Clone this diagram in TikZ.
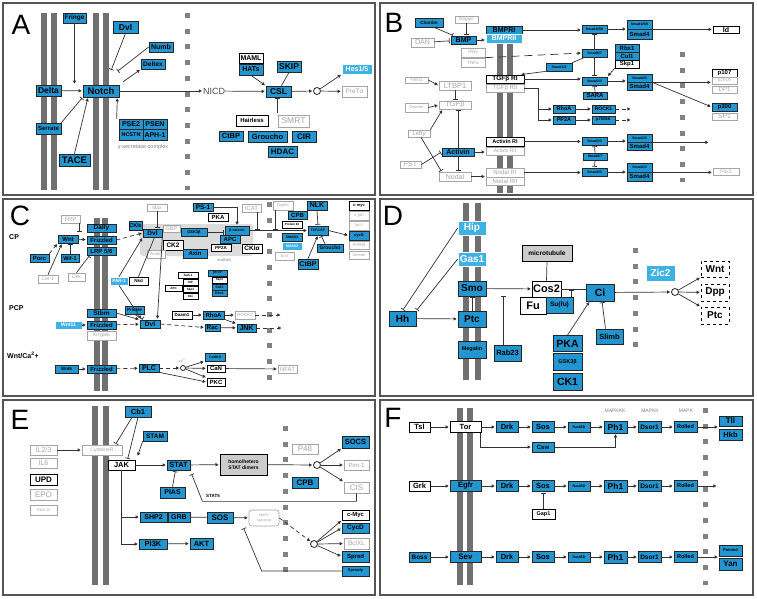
\documentclass[tikz,border=0pt]{standalone}
\usepackage{fontspec}
\setmainfont{Liberation Sans}
\setsansfont{Liberation Sans}
\usepackage{tikz}
\usetikzlibrary{arrows.meta,calc}
\definecolor{kblue}{RGB}{35,150,210}
\definecolor{lblue}{RGB}{62,178,228}
\definecolor{ltext}{RGB}{165,165,165}
\definecolor{membgray}{RGB}{112,112,112}
\definecolor{nucgray}{RGB}{130,130,130}
\definecolor{framegray}{RGB}{85,85,85}

\begin{document}
\begin{tikzpicture}[
    x=1pt, y=-1pt,
    % --- node styles ---
    box/.style={rectangle, inner sep=0pt, align=center, line width=0.7pt},
    bb/.style={box, fill=kblue, draw=black!85, text=black},
    lb/.style={box, fill=lblue, draw=white, text=white},
    wb/.style={box, fill=white, draw=black, text=black},
    gb/.style={box, fill=white, draw=ltext, text=ltext, execute at begin node=\mdseries},
    db/.style={box, fill=white, draw=black, dashed, text=black},
    sz/.style 2 args={minimum width=#1pt, minimum height=#2pt},
    fs/.style={font=\fontsize{#1}{#1}\selectfont\bfseries},
    hub/.style={circle, draw=black!85, line width=0.8pt, fill=white,
      inner sep=0pt, minimum size=7pt},
    lbl/.style={inner sep=0pt, text=black!70, execute at begin node=\mdseries},
    letter/.style={inner sep=0pt, font=\fontsize{28}{28}\selectfont},
    % --- edge styles ---
    arr/.style={-{Triangle[length=3pt,width=3.2pt]}, line width=0.7pt,
      draw=black!80, shorten >=1pt},
    inh/.style={-{Bar[width=5pt]}, line width=0.7pt, draw=black!80, shorten >=1pt},
    ln/.style={line width=0.7pt, draw=black!80},
    darr/.style={arr, dash pattern=on 4pt off 3pt},
    memb/.style={line width=6pt, draw=membgray},
    nuc/.style={line width=5pt, draw=nucgray, dash pattern=on 5pt off 10.7pt},
    frame/.style={draw=framegray, line width=1.2pt},
  ]

  \fill[white] (0,0) rectangle (757,598);
  \useasboundingbox (0,0) rectangle (757,598);

  % ============== PANEL FRAMES ==============
  \draw[frame] (3,3) rectangle (375,195);
  \draw[frame] (380,3) rectangle (753,195);
  \draw[frame] (3,199) rectangle (375,396);
  \draw[frame] (380,199) rectangle (753,396);
  \draw[frame] (3,400) rectangle (375,595);
  \draw[frame] (380,400) rectangle (753,595);

  % ============== A: NOTCH ==============
  \node[letter] (labA) at (21,25) {A};
  \draw[memb] (44,13) -- (44,190);
  \draw[memb] (54,13) -- (54,190);
  \draw[memb] (96,13) -- (96,190);
  \draw[memb] (106,13) -- (106,190);
  \draw[nuc] (187.5,13) -- (187.5,190);

  \node[bb, sz={23}{10}, fs=6.5] (fringe) at (74.5,18) {Fringe};
  \node[bb, sz={25}{12}, fs=8.5] (dvlA) at (125.5,27) {Dvl};
  \node[bb, sz={24}{10}, fs=7] (numb) at (161,47) {Numb};
  \node[bb, sz={24}{10}, fs=6.5] (deltex) at (153,64) {Deltex};
  \node[bb, sz={25}{11}, fs=8.5] (delta) at (48.5,90.5) {Delta};
  \node[bb, sz={36}{12}, fs=9.5] (notch) at (101,91) {Notch};
  \node[bb, sz={25}{11}, fs=6] (serrate) at (48.5,128.5) {Serrate};
  \node[bb, sz={24}{10.5}, fs=7] (pse2) at (131,124.25) {PSE2};
  \node[bb, sz={24}{10.5}, fs=7] (psen) at (155,124.25) {PSEN};
  \node[bb, sz={24}{10.5}, fs=5.5] (ncstn) at (131,134.75) {NCSTN};
  \node[bb, sz={24}{10.5}, fs=7] (aph) at (155,134.75) {APH-1};
  \node[lbl, fs=5.5, text=gray] (gsec) at (143,147) {γ-secretase complex};
  \node[bb, sz={31}{12}, fs=9.5] (tace) at (74.5,160) {TACE};
  \node[lbl, fs=9] (nicd) at (214,91) {NICD};
  \node[bb, sz={25}{11}, fs=8.5] (csl) at (278.5,91.5) {CSL};
  \node[wb, sz={24}{10}, fs=7] (maml) at (251,58) {MAML};
  \node[bb, sz={24}{11}, fs=7] (hats) at (251,69.5) {HATs};
  \node[bb, sz={24}{11}, fs=8.5] (skip) at (289,66.5) {SKIP};
  \node[hub] (hubA) at (317,91) {};
  \node[lb, sz={30}{10}, fs=7] (hes) at (357,69) {Hes1/5};
  \node[gb, sz={25}{11}, fs=6.5] (pret) at (354.5,91.5) {PreTα};
  \node[wb, sz={32}{11}, fs=6] (hairless) at (252,120.5) {Hairless};
  \node[gb, sz={31}{12}, fs=8.5] (smrt) at (293.5,121) {SMRT};
  \node[bb, sz={24}{10}, fs=7.5] (ctbpA) at (231,136) {CtBP};
  \node[bb, sz={39}{11}, fs=7.5] (groucho) at (267.5,136.5) {Groucho};
  \node[bb, sz={24}{11}, fs=8] (cir) at (304,136.5) {CIR};
  \node[bb, sz={29}{11}, fs=8] (hdac) at (282.5,151.5) {HDAC};

  \draw[arr] (fringe.south) -- (fringe.south |- notch.north);
  \draw[arr] (delta) -- (notch);
  \draw[inh] (serrate.north east) -- (notch.south west);
  \draw[arr] (tace.north) -- ($(notch.south)+(-13,0)$);
  \draw[inh] (dvlA.south) -- ($(notch.north)+(10,-14)$);
  \draw[inh] (numb.west) -- ($(notch.north)+(16,-13)$);
  \draw[arr] ($(notch.north east)+(4,-3)$) -- (deltex.south west);
  \draw[arr] ($(pse2.north west)+(-2,0)$) -- ($(notch.south east)+(-2,0)$);
  \draw[arr] (notch) -- (nicd);
  \draw[arr] (nicd) -- (csl);
  \draw[arr] (hats.south) -- (csl.north west);
  \draw[ln] (skip.south) -- ($(csl.north)+(3,0)$);
  \draw[arr] (csl) -- (hubA);
  \draw[arr] (hubA) -- (hes.south west);
  \draw[arr] (hubA) -- (pret);
  \draw[inh] ($(csl.south)+(-1.5,16)$) -- ($(csl.south)+(-1.5,0)$);

  % ============== B: TGF-BETA ==============
  \node[letter] (labB) at (394,23) {B};
  \draw[memb] (500,28) -- (500,193);
  \draw[memb] (510,28) -- (510,193);
  \draw[nuc] (682.5,52) -- (682.5,182);

  \node[bb, sz={28}{9}, fs=4.5] (chordin) at (429,22.5) {Chordin};
  \node[gb, sz={23}{7}, fs=4.5] (noggin) at (466.5,19.5) {Noggin};
  \node[gb, sz={23}{9}, fs=7] (dan) at (422.5,42.5) {DAN};
  \node[bb, sz={25}{8}, fs=7] (bmp) at (463.5,40) {BMP};
  \node[bb, sz={36}{8}, fs=7] (bmpri) at (504,30) {BMPRI};
  \node[lb, sz={36}{9}, fs=7] (bmprii) at (504,38.5) {BMPRII};
  \node[bb, sz={25}{8}, fs=3.5] (smad158) at (594.5,29) {Smad1/5/8};
  \node[bb, sz={25}{9}, fs=3.5] (s158) at (639.5,24.5) {Smad1/5/8};
  \node[bb, sz={25}{10}, fs=6] (smad4a) at (639.5,34) {Smad4};
  \node[wb, sz={26}{7}, fs=7] (id) at (726,29.5) {Id};
  \node[gb, sz={24}{9}, fs=4.5] (ifn) at (473,52.5) {IFNγ};
  \node[gb, sz={24}{9}, fs=4.5] (tnf) at (473,62.5) {TNFα};
  \node[bb, sz={25}{8}, fs=3.5] (smad67a) at (594.5,53) {Smad6/7};
  \node[bb, sz={26}{8}, fs=3.5] (smurf) at (559,67) {Smurf1/2};
  \node[wb, sz={38}{8}, fs=6.5] (tgfri) at (505,79) {TGFβ RI};
  \node[gb, sz={38}{8}, fs=6] (tgfrii) at (505,88) {TGFβ RII};
  \node[bb, sz={24}{8}, fs=6] (rbx) at (627,48) {Rbx1};
  \node[bb, sz={24}{8}, fs=6] (cul) at (627,56) {Cul1};
  \node[wb, sz={24}{8}, fs=6] (skp) at (627,64) {Skp1};
  \node[bb, sz={25}{8}, fs=3.5] (smad23a) at (594.5,81) {Smad2/3};
  \node[bb, sz={24}{7}, fs=6] (sara) at (595,95.5) {SARA};
  \node[bb, sz={25}{8}, fs=3.5] (s23a) at (639.5,78) {Smad2/3};
  \node[bb, sz={25}{8}, fs=6] (smad4b) at (639.5,86) {Smad4};
  \node[wb, sz={25}{8}, fs=6] (p107) at (724.5,73) {p107};
  \node[gb, sz={25}{7}, fs=4] (e2f) at (724.5,80.5) {E2F4/5};
  \node[gb, sz={25}{7}, fs=6] (dp1) at (724.5,89.5) {DP1};
  \node[bb, sz={25}{8}, fs=6] (p300) at (724.5,107) {p300};
  \node[gb, sz={25}{7}, fs=7] (sp1) at (724.5,116.5) {SP1};
  \node[bb, sz={22}{8}, fs=5.5] (rhoaB) at (564,109) {RhoA};
  \node[bb, sz={22}{8}, fs=5.5] (pp2aB) at (564,120) {PP2A};
  \node[bb, sz={23}{8}, fs=5] (rock1) at (603.5,109) {ROCK1};
  \node[bb, sz={23}{8}, fs=4] (p70) at (603.5,120) {p70S6K};
  \node[wb, sz={38}{9}, fs=5.5] (actri) at (505,141.5) {Activin RI};
  \node[gb, sz={38}{8}, fs=5] (actrii) at (505,151) {Activin RII};
  \node[bb, sz={25}{8}, fs=3.5] (smad23b) at (594.5,141) {Smad2/3};
  \node[bb, sz={24}{7}, fs=3.5] (smad67b) at (595,156.5) {Smad6/7};
  \node[bb, sz={25}{8}, fs=3.5] (s23b) at (639.5,138) {Smad2/3};
  \node[bb, sz={25}{8}, fs=6] (smad4c) at (639.5,146) {Smad4};
  \node[gb, sz={38}{9}, fs=6] (nodalri) at (505,172.5) {Nodal RI};
  \node[gb, sz={38}{8}, fs=6] (nodalrii) at (505,181) {Nodal RII};
  \node[bb, sz={25}{8}, fs=3.5] (smad23c) at (594.5,172) {Smad2/3};
  \node[bb, sz={25}{9}, fs=3.5] (s23c) at (639.5,167.5) {Smad2/3};
  \node[bb, sz={25}{9}, fs=6] (smad4d) at (639.5,176.5) {Smad4};
  \node[gb, sz={26}{7}, fs=5] (pitx) at (726,171.5) {Pitx2};
  \node[gb, sz={23}{6}, fs=4] (thbs) at (416.5,80) {THBS1};
  \node[gb, sz={32}{9}, fs=7.5] (ltbp) at (455,85.5) {LTBP1};
  \node[gb, sz={23}{9}, fs=4] (decorin) at (416.5,107.5) {Decorin};
  \node[gb, sz={32}{8}, fs=7.5] (tgfb) at (455,105) {TGFβ};
  \node[gb, sz={22}{7}, fs=6] (lefty) at (419,133.5) {Lefty};
  \node[bb, sz={32}{8}, fs=7] (activin) at (458,152) {Activin};
  \node[gb, sz={21}{7}, fs=7] (fst) at (410.5,164.5) {FST};
  \node[gb, sz={32}{9}, fs=7] (nodal) at (455,176.5) {Nodal};

  \draw[inh] ($(chordin.south)+(5,0)$) -- ($(bmp.north west)+(3,0)$);
  \draw[inh] (noggin.south) -- (noggin.south |- bmp.north);
  \draw[inh] (dan) -- (bmp);
  \draw[arr] (bmp) -- (bmp -| bmprii.west);
  \draw[arr] (bmpri.east) -- (bmpri.east -| smad158.west);
  \draw[arr] (smad158.east) -- (smad158.east -| s158.west);
  \draw[arr] (s158.south east) -- (s158.south east -| id.west);
  \draw[arr, dash pattern=on 8pt off 5pt] (tnf.north east) -- (smad67a.west);
  \draw[ln] ($(smad67a.south west)+(3,0)$) -- (smurf.north east);
  \draw[arr] (smurf.south west) -- ($(tgfri.north east)+(-4,0)$);
  \draw[arr] (tgfri.east) -- (tgfri.east -| smad23a.west);
  \draw[inh] (smad67a.north) -- (smad158.south);
  \draw[inh] (smad67a.south) -- (smad23a.north);
  \draw[arr] (skp.south west) -- (smad23a.north east);
  \draw[inh] (sara.north) -- (smad23a.south);
  \draw[arr] (smad23a.east) -- (smad23a.east -| s23a.west);
  \draw[arr] (s23a.south east) -- (s23a.south east -| p107.west);
  \draw[arr] (s23a.south east) -- (p300.west);
  \draw[ln] (tgfrii.east) -- ++(14,0) coordinate (brB);
  \draw[arr] (brB) |- (rhoaB.west);
  \draw[arr] (brB) |- (pp2aB.west);
  \draw[arr] (rhoaB) -- (rock1);
  \draw[arr] (pp2aB) -- (p70);
  \draw[darr] (rock1.east) -- ++(16,0);
  \draw[darr] (p70.east) -- ++(16,0);
  \draw[arr] (actri.east) -- (actri.east -| smad23b.west);
  \draw[inh] (smad67b.north) -- (smad23b.south);
  \draw[inh] (smad67b.south) -- (smad23c.north);
  \draw[arr] (smad23b.east) -- (smad23b.east -| s23b.west);
  \draw[arr] (s23b.south east) -- ++(57,0);
  \draw[arr] (nodalri.east) -- (nodalri.east -| smad23c.west);
  \draw[arr] (smad23c.east) -- (smad23c.east -| s23c.west);
  \draw[arr] (s23c.south east) -- (s23c.south east -| pitx.west);
  \draw[arr] (thbs.east) -- (ltbp.west);
  \draw[inh] (ltbp.south) -- (tgfb.north);
  \draw[arr] (decorin.east) -- (tgfb.west);
  \draw[arr] (lefty.north east) -- ($(tgfb.south west)+(4,0)$);
  \draw[inh] ($(lefty.south)+(2,0)$) -- ($(nodal.north west)+(3,0)$);
  \draw[inh] (activin.north) -- (activin.north |- tgfb.south);
  \draw[inh] (activin.south) -- (activin.south |- nodal.north);
  \draw[inh] (fst.east) -- (activin.west);
  \draw[arr] (activin) -- (activin -| actrii.west);
  \draw[arr] (nodal) -- (nodal -| nodalri.west);

  % ============== C: WNT ==============
  \node[letter] (labC) at (20,216) {C};
  \node[inner sep=0pt, fs=7, anchor=west] (cpL) at (9,237) {CP};
  \node[inner sep=0pt, fs=7, anchor=west] (pcpL) at (9,308) {PCP};
  \node[inner sep=0pt, fs=7, anchor=west] (caL) at (7,355) {Wnt/Ca\textsuperscript{2}+};
  \draw[memb] (97,218) -- (97,391);
  \draw[memb] (105,218) -- (105,391);
  \draw[nuc] (269.5,202) -- (269.5,388);
  \fill[gray!28, rounded corners=3pt] (140,224) rectangle (253,256);
  \node[lbl, fs=4, text=gray] (scaf) at (224,260) {scaffold};

  \node[gb, sz={20}{7}, fs=5] (idax) at (157,207.5) {Idax};
  \node[gb, sz={19}{8}, fs=6] (frp) at (70.5,219) {FRP};
  \node[bb, sz={29}{8}, fs=6.5] (dally) at (101.5,228) {Dally};
  \node[bb, sz={29}{8}, fs=6] (frzC) at (101.5,240) {Frizzled};
  \node[bb, sz={29}{8}, fs=6] (lrp) at (101.5,251) {LRP 5/6};
  \node[bb, sz={20}{8}, fs=6] (wnt) at (68,239) {Wnt};
  \node[bb, sz={19}{8}, fs=6] (porc) at (39.5,258) {Porc};
  \node[bb, sz={18}{8}, fs=5.5] (wif) at (70,258) {Wif-1};
  \node[gb, sz={20}{8}, fs=5] (cer) at (48,279) {Cer-1};
  \node[gb, sz={17}{8}, fs=5] (dkk) at (76.5,277) {Dkk};
  \node[bb, sz={13}{9}, fs=5.5] (ckie) at (135.5,225.5) {CKIε};
  \node[bb, sz={19}{8}, fs=6.5] (dvlC) at (152.5,233) {Dvl};
  \node[gb, sz={17}{7}, fs=5.5] (gbp) at (171.5,228.5) {GBP};
  \node[wb, sz={20}{10}, fs=6.5] (ck2) at (173,245) {CK2};
  \node[gb, sz={18}{8}, fs=4.5] (axam) at (156,254) {Axam};
  \node[bb, sz={26}{8}, fs=4] (gsk) at (194,232) {GSK3β};
  \node[bb, sz={24}{9}, fs=6] (axin) at (195,253.5) {Axin};
  \node[bb, sz={20}{8}, fs=6.5] (ps1) at (203,207) {PS-1};
  \node[wb, sz={20}{8}, fs=6] (pka) at (218,217) {PKA};
  \node[bb, sz={24}{9}, fs=3.5] (bcat) at (237,230.5) {β-catenin};
  \node[bb, sz={20}{8}, fs=6] (apc) at (230,239) {APC};
  \node[wb, sz={20}{7}, fs=4.5] (pp2aC) at (221,247.5) {PP2A};
  \node[wb, sz={20}{9}, fs=6.5] (ckia) at (252,248.5) {CKIα};
  \node[gb, sz={19}{8}, fs=6] (icat) at (251.5,208) {ICAT};
  \node[gb, sz={20}{9}, fs=4] (duplin) at (283,205.5) {Duplin};
  \node[bb, sz={19}{8}, fs=6] (cpbC) at (297.5,215) {CPB};
  \node[wb, sz={20}{7}, fs=3] (prot82) at (292,224.5) {Protein 82};
  \node[bb, sz={20}{8}, fs=3.5] (smad4C) at (292,237) {SMAD4};
  \node[lb, sz={20}{8}, fs=3.5] (smad3C) at (292,246) {SMAD3};
  \node[gb, sz={19}{8}, fs=3.5] (bcl9) at (284.5,256) {Bcl9};
  \node[bb, sz={20}{9}, fs=7] (nlk) at (317,205.5) {NLK};
  \node[bb, sz={20}{9}, fs=3.5] (tcf) at (318,230.5) {TCF/LEF};
  \node[bb, sz={26}{8}, fs=5] (grouchoC) at (330,248) {Groucho};
  \node[bb, sz={20}{10}, fs=7] (ctbpC) at (308,264) {CtBP};
  \node[wb, sz={20}{9}, fs=4] (cmycC) at (359,205.5) {c-myc};
  \node[gb, sz={20}{9}, fs=4.5] (cjun) at (359,215.5) {c-jun};
  \node[gb, sz={20}{9}, fs=4] (fra) at (359,225.5) {fra-1};
  \node[bb, sz={20}{9}, fs=4] (cycdC) at (359,235.5) {cycD};
  \node[gb, sz={20}{8}, fs=4] (ppar) at (359,245) {PPARδ};
  \node[gb, sz={20}{8}, fs=4] (uter) at (359,255) {Uterine};
  \node[lb, sz={18}{8}, fs=4.5] (par1) at (119,281) {PAR-1};
  \node[wb, sz={19}{8}, fs=4.5] (nkd) at (138.5,281) {Nkd};
  \node[wb, sz={20}{6}, fs=3] (siah) at (188,275.5) {Siah-1};
  \node[wb, sz={15}{6}, fs=3] (sip) at (190.5,282.5) {SIP};
  \node[wb, sz={15}{6}, fs=3] (skpC) at (190.5,289.5) {Skp1};
  \node[wb, sz={15}{6}, fs=3] (ebi) at (190.5,296.5) {Ebi};
  \node[wb, sz={17}{6}, fs=3] (apcC) at (173.5,288) {APC};
  \node[bb, sz={19}{6}, fs=3] (btrcp) at (217.5,273) {βTrCP};
  \node[wb, sz={15}{6}, fs=3] (skpC2) at (219.5,280) {Skp1};
  \node[bb, sz={15}{6}, fs=3.5] (culC) at (219.5,287) {Cul1};
  \node[bb, sz={15}{6}, fs=3.5] (rbxC) at (219.5,293.5) {Rbx1};
  \node[bb, sz={29}{8}, fs=6.5] (stbm) at (101.5,313) {Stbm};
  \node[bb, sz={29}{8}, fs=6] (frzP) at (101.5,325) {Frizzled};
  \node[gb, sz={29}{9}, fs=5] (knypek) at (101.5,335.5) {Knypek};
  \node[lb, sz={27}{8}, fs=5] (wnt11) at (68.5,325) {Wnt11};
  \node[bb, sz={19}{8}, fs=4.5] (prickle) at (134.5,310) {Prickle};
  \node[bb, sz={20}{8}, fs=6.5] (dvlP) at (150,324) {Dvl};
  \node[wb, sz={20}{8}, fs=4.5] (daam) at (182,315) {Daam1};
  \node[bb, sz={21}{8}, fs=6] (rhoaC) at (213.5,315) {RhoA};
  \node[gb, sz={20}{8}, fs=4.5] (rock2) at (245,315) {ROCK2};
  \node[bb, sz={15}{7}, fs=6] (rac) at (212.5,327.5) {Rac};
  \node[bb, sz={19}{8}, fs=7] (jnk) at (246.5,328) {JNK};
  \node[bb, sz={23}{8}, fs=4.5] (wnt5) at (66.5,369) {Wnt5};
  \node[bb, sz={29}{8}, fs=6] (frzW) at (101.5,369) {Frizzled};
  \node[bb, sz={20}{8}, fs=7] (plc) at (149,368) {PLC};
  \node[hub, minimum size=5pt] (hubC) at (183,368) {};
  \node[lbl, fs=3, text=gray] (caion) at (182,361) {Ca\textsuperscript{2+}};
  \node[bb, sz={20}{8}, fs=3.5] (camk) at (215,357) {CaMKII};
  \node[wb, sz={18}{7}, fs=6] (can) at (216,368.5) {CaN};
  \node[wb, sz={18}{8}, fs=6] (pkc) at (216,382) {PKC};
  \node[gb, sz={19}{8}, fs=6] (nfat) at (287.5,369) {NFAT};

  \draw[arr] (wnt) -- (frzC);
  \draw[inh] ($(frp.south east)+(-1,0)$) -- ++(0,9);
  \draw[inh] (wif.north) -- (wif.north |- wnt.south);
  \draw[darr] (porc.north east) -- (wnt.south west);
  \draw[arr] (cer.north) -- ($(wnt.south)+(-6,0)$);
  \draw[inh] (dkk.north) -- ($(lrp.south west)+(3,0)$);
  \draw[darr] (frzC.east) -- (dvlC.west);
  \draw[inh] (idax.south) -- (idax.south |- dvlC.north);
  \draw[inh] (gsk.east) -- (gsk.east -| bcat.west);
  \draw[arr] (ps1.east) -| (bcat.north);
  \draw[arr] (bcat.east) -- (bcat.east -| tcf.west);
  \coordinate (icatb) at ($(icat.south)+(6,0)$);
  \draw[inh] (icatb) -- (icatb |- bcat.east);
  \coordinate (dupb) at ($(duplin.south)+(-8,0)$);
  \draw[inh] (dupb) -- (dupb |- bcat.east);
  \draw[inh] (nlk.south) -- (tcf.north);
  \draw[inh] ($(grouchoC.north)+(-5,0)$) -- ($(tcf.south)+(3,0)$);
  \draw[arr] (ctbpC.north) -- (tcf.south);
  \draw[arr] (tcf.east) -- (cycdC.west);
  \draw[arr] (par1.north) -- (dvlC.south west);
  \draw[ln] (nkd.north) -- ($(dvlC.south)+(2,0)$);
  \draw[arr] (par1.south) -- ($(dvlP.north west)+(2,0)$);
  \draw[arr] (dvlC.south east) -- ($(dvlP.north east)+(-3,0)$);
  \draw[inh] (prickle.south) -- ($(dvlP.north west)+(4,0)$);
  \draw[arr] (wnt11) -- (frzP);
  \draw[darr] (frzP) -- (dvlP);
  \draw[arr] (stbm.east) -- (dvlP.north west);
  \draw[darr] (dvlP.east) -- (rac.west);
  \draw[arr] (daam) -- (rhoaC);
  \draw[arr] (rhoaC) -- (rock2);
  \draw[darr] (rock2.east) -- ++(26,0);
  \draw[arr] (rac) -- (jnk);
  \draw[arr] (rhoaC.south east) -- (jnk.north west);
  \draw[darr] (jnk.east) -- ++(26,0);
  \draw[arr] (wnt5) -- (frzW);
  \draw[darr] (frzW) -- (plc);
  \draw[darr] (plc) -- (hubC);
  \draw[arr] (hubC) -- (camk.south west);
  \draw[arr] (hubC) -- (can);
  \draw[arr] (hubC) -- (pkc.north west);
  \draw[arr] (plc.south east) -- (pkc.west);
  \draw[arr] (can) -- (nfat);

  % ============== D: HEDGEHOG ==============
  \node[letter] (labD) at (393,216) {D};
  \draw[memb] (466,203) -- (466,380);
  \draw[memb] (478,203) -- (478,380);
  \draw[nuc] (635,248) -- (635,357);

  \node[lb, sz={28}{14}, fs=10] (hip) at (472,228) {Hip};
  \node[lb, sz={28}{14}, fs=10] (gas) at (472,259) {Gas1};
  \node[bb, sz={28}{15}, fs=10] (smo) at (472,288.5) {Smo};
  \node[bb, sz={28}{16}, fs=10] (ptcM) at (472,319) {Ptc};
  \node[bb, sz={28}{17}, fs=5.5] (megalin) at (472,349.5) {Megalin};
  \node[bb, sz={27}{15}, fs=10] (hh) at (402.5,318.5) {Hh};
  \node[bb, sz={27}{16}, fs=7.5] (rab) at (507.5,353) {Rab23};
  \node[wb, fill=gray!40, sz={50}{16}, fs=6.5] (micro) at (547,253) {microtubule};
  \node[wb, sz={29}{16}, fs=11] (cos) at (546.5,289) {Cos2};
  \node[wb, sz={26}{17}, fs=11] (fu) at (533,305.5) {Fu};
  \node[bb, sz={27}{16}, fs=6.5] (sufu) at (559.5,305) {Su(fu)};
  \node[bb, sz={28}{17}, fs=10.5] (ci) at (600,292.5) {Ci};
  \node[lb, sz={29}{16}, fs=10] (zic) at (660.5,273) {Zic2};
  \node[hub] (hubD) at (675,292) {};
  \node[db, sz={28}{16}, fs=10] (wntD) at (715,269) {Wnt};
  \node[db, sz={28}{17}, fs=10] (dpp) at (715,292.5) {Dpp};
  \node[db, sz={28}{17}, fs=10] (ptcD) at (715,315.5) {Ptc};
  \node[bb, sz={29}{16}, fs=10.5] (pkaD) at (567.5,343.5) {PKA};
  \node[bb, sz={29}{17}, fs=5.5] (gskD) at (567.5,362) {GSK3β};
  \node[bb, sz={29}{17}, fs=10.5] (ck1) at (567.5,382) {CK1};
  \node[bb, sz={27}{15}, fs=7.5] (slimb) at (609.5,336.5) {Slimb};

  \draw[arr] (hh) -- (ptcM);
  \draw[inh] (hip.west) -- (hh.north);
  \draw[inh] (gas.west) -- (hh.north east);
  \draw[inh] (ptcM.north) -- (smo.south);
  \draw[arr] (smo) -- (cos);
  \draw[inh] ($(rab.north)+(-4,0)$) -- ++(0,-50);
  \draw[ln] (micro.south) -- (cos.north);
  \draw[ln] (cos.east) -- (cos.east -| ci.west);
  \draw[inh] ($(sufu.north east)+(-2,0)$) -- ++(0,-8);
  \draw[arr] (ci) -- (hubD);
  \draw[arr] (hubD) -- (wntD.south west);
  \draw[arr] (hubD) -- (dpp);
  \draw[arr] (hubD) -- (ptcD.north west);
  \draw[arr] (pkaD.north) -- ($(ci.south west)+(4,0)$);
  \draw[inh] ($(slimb.north)+(-4,0)$) -- ($(ci.south)+(2,0)$);

  % ============== E: JAK/STAT ==============
  \node[letter] (labE) at (20,420) {E};
  \draw[memb] (95,406) -- (95,585);
  \draw[memb] (106,406) -- (106,585);
  \draw[nuc] (285,426) -- (285,572);

  \node[gb, sz={27}{10}, fs=7] (il23) at (43.5,450) {IL2/3};
  \node[gb, sz={27}{10}, fs=7] (il6) at (43.5,463) {IL6};
  \node[wb, line width=1pt, sz={27}{11}, fs=8] (upd) at (43.5,479.5) {UPD};
  \node[gb, sz={27}{11}, fs=8] (epo) at (43.5,494.5) {EPO};
  \node[gb, sz={27}{10}, fs=3.5] (ifnE) at (43.5,510) {IFN/IL10};
  \node[gb, sz={40}{10}, fs=5] (cyto) at (102,450) {CytokineR};
  \node[wb, sz={27}{10}, fs=7.5] (jak) at (121.5,465) {JAK};
  \node[bb, sz={26}{11}, fs=7.5] (cb1) at (138,411.5) {Cb1};
  \node[bb, sz={24}{10}, fs=6.5] (stam) at (155,436) {STAM};
  \node[bb, sz={23}{10}, fs=7.5] (stat) at (178.5,465) {STAT};
  \node[bb, sz={25}{11}, fs=7] (pias) at (172.5,492.5) {PIAS};
  \node[bb, sz={27}{10}, fs=7] (shp) at (153.5,517) {SHP2};
  \node[bb, sz={22}{10}, fs=7] (grb) at (179,517) {GRB};
  \node[bb, sz={26}{11}, fs=8] (sosE) at (220,517.5) {SOS};
  \node[bb, sz={28}{10}, fs=7.5] (pi3k) at (153,544) {PI3K};
  \node[bb, sz={23}{11}, fs=7.5] (akt) at (201.5,543.5) {AKT};
  \node[wb, fill=gray!40, line width=1pt, sz={47}{21}, fs=5] (dimer) at (243.5,464.5)
    {homo/hetero\\[1pt]STAT dimers};
  \node[hub] (hubE1) at (317,465) {};
  \node[gb, sz={26}{10}, fs=8] (p48) at (305,449) {P48};
  \node[bb, sz={26}{11}, fs=8] (cpbE) at (305,482.5) {CPB};
  \node[bb, sz={27}{12}, fs=7.5] (socs) at (355.5,442) {SOCS};
  \node[gb, sz={25}{10}, fs=6] (pim) at (356.5,465) {Pim-1};
  \node[gb, sz={25}{11}, fs=8] (cis) at (356.5,487.5) {CIS};
  \node[gb, rounded corners=3pt, sz={30}{16}, fs=3.5] (mapk) at (264,518)
    {MAPK\\[1pt]signaling};
  \node[hub] (hubE2) at (314,544) {};
  \node[wb, sz={27}{10}, fs=6] (cmycE) at (355.5,515) {c-Myc};
  \node[bb, sz={27}{10}, fs=6.5] (cycdE) at (355.5,528) {CycD};
  \node[gb, sz={25}{11}, fs=6.5] (bcl) at (356.5,543.5) {BclXL};
  \node[bb, sz={27}{11}, fs=6] (spred) at (355.5,556.5) {Spred};
  \node[bb, sz={27}{10}, fs=4] (sprouty) at (355.5,571) {Sprouty};
  \node[inner sep=0pt, fs=4.5] (stat5) at (213,496) {STAT5};

  \draw[arr] (il23) -- (cyto);
  \draw[inh] ($(cb1.south)+(-6,0)$) -- ($(cyto.north east)+(-7,0)$);
  \draw[inh] (cb1.south) -- ($(jak.north)+(6,0)$);
  \draw[arr] (stam.south west) -- ($(jak.north east)+(2,-3)$);
  \draw[arr] (jak) -- (stat);
  \draw[inh] (pias.north) -- ($(stat.south)+(-3,0)$);
  \draw[arr] (jak.south) |- (shp.west);
  \draw[arr] (jak.south) |- (pi3k.west);
  \draw[ln] (shp) -- (grb);
  \draw[ln] (grb) -- (sosE);
  \draw[arr] (pi3k) -- (akt);
  \draw[arr] (stat) -- (dimer);
  \draw[arr] (dimer) -- (hubE1);
  \draw[arr] (hubE1) -- (socs.south west);
  \draw[arr] (hubE1) -- (pim);
  \draw[arr] (hubE1) -- (cis.north west);
  \draw[inh] (cis.south) -- ++(0,8) -- ++(-154,0) -- ($(stat.south east)+(1,3)$);
  \draw[arr] (sosE) -- (mapk);
  \draw[darr] (mapk.east) -- (hubE2);
  \draw[arr] (hubE2) -- (cmycE.south west);
  \draw[arr] (hubE2) -- (cycdE.west);
  \draw[arr] (hubE2) -- (bcl);
  \draw[arr] (hubE2) -- (spred.west);
  \draw[inh] (sprouty.west) -- ++(-80,0) -- ($(sosE.south east)+(10,4)$);

  % ============== F: RTK / MAPK ==============
  \node[letter] (labF) at (393,418) {F};
  \draw[memb] (460,408) -- (460,585);
  \draw[memb] (470,408) -- (470,585);
  \draw[nuc] (705,408) -- (705,585);
  \node[lbl, fs=5, text=gray] (mkkk) at (615,411) {MAPKKK};
  \node[lbl, fs=5, text=gray] (mkk) at (650,411) {MAPKK};
  \node[lbl, fs=5, text=gray] (mk) at (686,411) {MAPK};

  \node[wb, sz={21}{10}, fs=7.5] (tsl) at (419.5,427) {Tsl};
  \node[wb, sz={31}{11}, fs=7.5] (tor) at (465.5,427) {Tor};
  \node[bb, sz={22}{11}, fs=7.5] (drkA) at (507,427) {Drk};
  \node[bb, sz={22}{11}, fs=7.5] (sosA) at (543,427) {Sos};
  \node[bb, sz={22}{10}, fs=3.5] (rasA) at (579,427) {Ras85D};
  \node[bb, sz={23}{12}, fs=8.5] (ph1A) at (615.5,427) {Ph1};
  \node[bb, sz={23}{11}, fs=6.5] (dsorA) at (649.5,427) {Dsor1};
  \node[bb, sz={23}{11}, fs=5.5] (rolA) at (685.5,427) {Rolled};
  \node[bb, sz={23}{10}, fs=8] (tll) at (730.5,421) {Tll};
  \node[bb, sz={23}{11}, fs=7.5] (hkb) at (730.5,434.5) {Hkb};
  \node[bb, sz={22}{10}, fs=6] (csw) at (543,447) {Csw};

  \node[wb, sz={21}{10}, fs=7.5] (grk) at (419.5,486) {Grk};
  \node[bb, sz={31}{11}, fs=7.5] (egfr) at (465.5,486) {Egfr};
  \node[bb, sz={22}{11}, fs=7.5] (drkB) at (507,486) {Drk};
  \node[bb, sz={22}{11}, fs=7.5] (sosB) at (543,486) {Sos};
  \node[bb, sz={22}{10}, fs=3.5] (rasB) at (579,486) {Ras85D};
  \node[bb, sz={23}{12}, fs=8.5] (ph1B) at (615.5,486) {Ph1};
  \node[bb, sz={23}{11}, fs=6.5] (dsorB) at (649.5,486) {Dsor1};
  \node[bb, sz={23}{11}, fs=5.5] (rolB) at (685.5,486) {Rolled};
  \node[wb, sz={23}{10}, fs=5.5] (gap) at (543.5,514) {Gap1};

  \node[bb, sz={21}{10}, fs=6.5] (boss) at (419.5,557) {Boss};
  \node[bb, sz={31}{11}, fs=8] (sev) at (465.5,557) {Sev};
  \node[bb, sz={22}{11}, fs=7.5] (drkC) at (507,557) {Drk};
  \node[bb, sz={22}{11}, fs=7.5] (sosC) at (543,557) {Sos};
  \node[bb, sz={22}{10}, fs=3.5] (rasC) at (579,557) {Ras85D};
  \node[bb, sz={23}{12}, fs=8.5] (ph1C) at (615.5,557) {Ph1};
  \node[bb, sz={23}{11}, fs=6.5] (dsorC) at (649.5,557) {Dsor1};
  \node[bb, sz={23}{11}, fs=5.5] (rolC) at (685.5,557) {Rolled};
  \node[bb, sz={23}{11}, fs=4] (pointed) at (730.5,550.5) {Pointed};
  \node[bb, sz={23}{12}, fs=8] (yan) at (730.5,564) {Yan};

  \draw[arr] (tsl) -- (tor);
  \draw[arr] (tor) -- (drkA);
  \draw[arr] (drkA) -- (sosA);
  \draw[arr] (sosA) -- (rasA);
  \draw[arr] (rasA) -- (ph1A);
  \draw[arr] (ph1A) -- (dsorA);
  \draw[arr] (dsorA) -- (rolA);
  \draw[arr] (rolA.east) -- (rolA.east -| tll.west);
  \draw[arr] ($(tor.south east)+(-1,0)$) |- (csw.west);
  \draw[arr] (csw.east) -| (ph1A.south);

  \draw[arr] (grk) -- (egfr);
  \draw[arr] (egfr) -- (drkB);
  \draw[arr] (drkB) -- (sosB);
  \draw[arr] (sosB) -- (rasB);
  \draw[arr] (rasB) -- (ph1B);
  \draw[arr] (ph1B) -- (dsorB);
  \draw[arr] (dsorB) -- (rolB);
  \draw[arr] (rolB.east) -- ++(20,0);
  \draw[inh] (gap.north) -- (gap.north |- sosB.south);

  \draw[arr] (boss) -- (sev);
  \draw[arr] (sev) -- (drkC);
  \draw[arr] (drkC) -- (sosC);
  \draw[arr] (sosC) -- (rasC);
  \draw[arr] (rasC) -- (ph1C);
  \draw[arr] (ph1C) -- (dsorC);
  \draw[arr] (dsorC) -- (rolC);
  \draw[arr] (rolC.east) -- (rolC.east -| yan.west);

\end{tikzpicture}
\end{document}
